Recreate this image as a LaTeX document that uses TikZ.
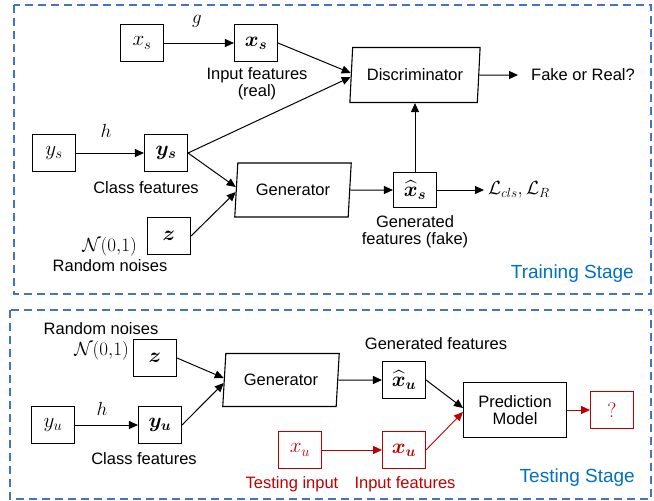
\RequirePackage{fix-cm}
\documentclass[tikz,border=0pt]{standalone}
\usepackage{amsmath,bm}
\usepackage{fontspec}
\setmainfont{Liberation Sans}
\usetikzlibrary{arrows.meta,shapes.geometric}
\definecolor{bordblue}{RGB}{68,114,196}
\definecolor{stageblue}{RGB}{0,112,192}
\definecolor{darkred}{RGB}{192,0,0}
\newcommand\lblfont{\fontsize{16.5}{17}\selectfont}
\newcommand\mthfont{\fontsize{21}{24}\selectfont}
\newcommand\smthfont{\fontsize{19}{22}\selectfont}
\begin{document}
\begin{tikzpicture}[x=1pt,y=-1pt,
  border/.style={draw=bordblue, line width=1.4pt, dash pattern=on 8pt off 5pt},
  box/.style={draw, line width=1.1pt, minimum width=43pt, minimum height=37pt, inner sep=0pt, font=\mthfont},
  redbox/.style={box, draw=darkred, text=darkred, line width=0.9pt},
  para/.style={draw, line width=1.1pt, trapezium, trapezium left angle=80, trapezium right angle=100, trapezium stretches=true, inner sep=0pt, font=\lblfont},
  lbl/.style={inner sep=2pt, font=\lblfont, align=center},
  mlbl/.style={inner sep=2pt, font=\smthfont},
  stage/.style={inner sep=0pt, font=\fontsize{19}{22}\selectfont, text=stageblue},
  arr/.style={-{Triangle[length=9pt,width=8pt]}, line width=1pt},
  rarr/.style={arr, draw=darkred, line width=0.9pt, -{Triangle[length=9pt,width=8pt]}}
]
\useasboundingbox (0,0) rectangle (654,501);
% ---------- Training stage ----------
\draw[border] (14,5) rectangle (651,294);
\node[box] (xs) at (142,43) {$x_s$};
\node[box] (bxs) at (256,43) {$\bm{x}_{\bm{s}}$};
\node[mlbl] (g) at (197,21) {$g$};
\node[lbl] (inf) at (257,84) {Input features\\(real)};
\node[box] (ys) at (54,153) {$y_s$};
\node[box] (bys) at (166,153) {$\bm{y}_{\bm{s}}$};
\node[mlbl] (h) at (106,131) {$h$};
\node[lbl] (cf) at (146,188) {Class features};
\node[box] (z) at (169,236) {$\bm{z}$};
\node[mlbl, anchor=east] (N) at (139,247) {$\mathcal{N}(0{,}1)$};
\node[lbl] (rn) at (110,266) {Random noises};
\node[para, minimum width=117pt, minimum height=54pt] (gen) at (293,190) {Generator};
\node[para, minimum width=131pt, minimum height=55pt] (disc) at (415,75) {Discriminator};
\node[lbl, anchor=west, inner sep=4pt] (for) at (527,75) {Fake or Real?};
\node[box, minimum height=35pt] (hxs) at (415,190) {$\widehat{\bm{x}}_{\bm{s}}$};
\node[mlbl, anchor=west, inner sep=4pt] (loss) at (484,190) {$\mathcal{L}_{cls}{,}\,\mathcal{L}_R$};
\node[lbl] (gf) at (415,232) {Generated\\features (fake)};
\node[stage, anchor=east] (ts) at (634,274) {Training Stage};
\draw[arr] (xs) -- (bxs);
\draw[arr] (ys) -- (bys);
\draw[arr] (bxs.east) -- ([yshift=2pt]disc.west);
\draw[arr] (bys.east) -- ([yshift=-2pt]disc.west);
\draw[arr] (bys.east) -- ([yshift=3pt]gen.west);
\draw[arr] (z.east) -- ([yshift=-2pt]gen.west);
\draw[arr] (gen) -- (hxs);
\draw[arr] (hxs) -- (disc);
\draw[arr] (hxs) -- (loss);
\draw[arr, shorten >=9pt] (disc) -- (for);
% ---------- Testing stage ----------
\draw[border] (10,310) rectangle (651,499);
\node[lbl] (rn2) at (101,329) {Random noises};
\node[mlbl, anchor=east] (N2) at (131,351) {$\mathcal{N}(0{,}1)$};
\node[box] (z2) at (155,358) {$\bm{z}$};
\node[para, minimum width=117pt, minimum height=53pt] (gen2) at (281,380) {Generator};
\node[box] (yu) at (53,425) {$y_u$};
\node[box] (byu) at (160,425) {$\bm{y}_{\bm{u}}$};
\node[mlbl] (h2) at (102,409) {$h$};
\node[lbl] (cf2) at (144,459) {Class features};
\node[box] (hxu) at (404,380) {$\widehat{\bm{x}}_{\bm{u}}$};
\node[lbl] (gf2) at (436,344) {Generated features};
\node[draw, line width=1.1pt, minimum width=103pt, minimum height=55pt, font=\lblfont, align=center, inner sep=0pt] (pm) at (515,410) {Prediction\\Model};
\node[redbox] (q) at (612,410) {$?$};
\node[redbox] (xu) at (300,450) {$x_u$};
\node[redbox] (bxu) at (404,450) {$\bm{x}_{\bm{u}}$};
\node[lbl, text=darkred] (ti) at (292,484) {Testing input};
\node[lbl, text=darkred] (if2) at (405,484) {Input features};
\node[stage, anchor=east] (tst) at (635,478) {Testing Stage};
\draw[arr] (z2.east) -- ([yshift=2pt]gen2.west);
\draw[arr] (yu) -- (byu);
\draw[arr] (byu.east) -- ([yshift=-3pt]gen2.west);
\draw[arr] (gen2) -- (hxu);
\draw[arr] (hxu.east) -- ([yshift=2pt]pm.west);
\draw[rarr] (xu) -- (bxu);
\draw[rarr] (bxu.east) -- ([yshift=-2pt]pm.west);
\draw[rarr] (pm) -- (q);
\end{tikzpicture}
\end{document}
